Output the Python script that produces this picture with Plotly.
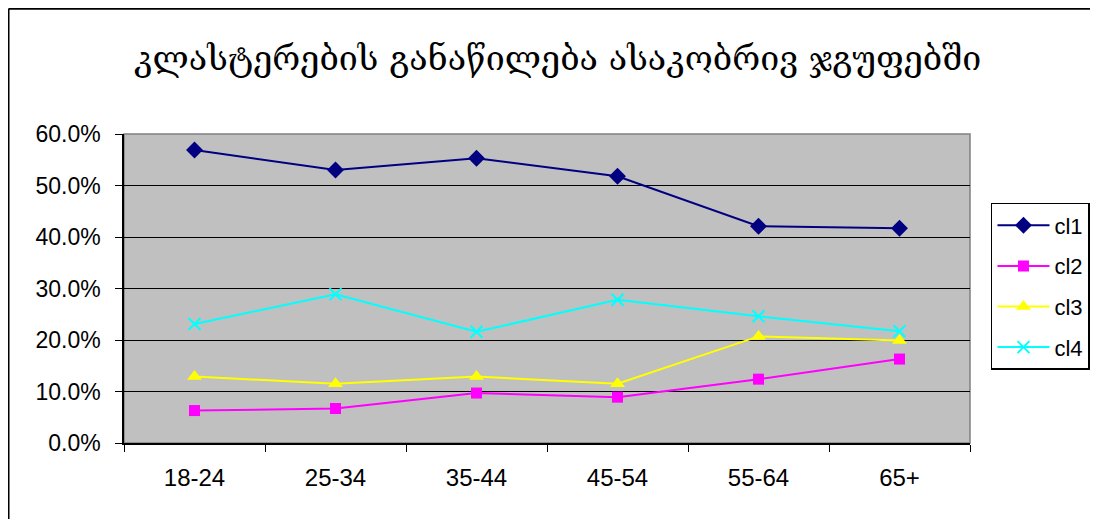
import plotly.graph_objects as go

# -----------------------------------------------------------------------------
# Data
# -----------------------------------------------------------------------------
age_groups = ["18-24", "25-34", "35-44", "45-54", "55-64", "65+"]

cl1 = [0.569, 0.530, 0.553, 0.518, 0.421, 0.417]
cl2 = [0.063, 0.067, 0.097, 0.089, 0.124, 0.163]
cl3 = [0.129, 0.115, 0.129, 0.115, 0.207, 0.199]
cl4 = [0.231, 0.289, 0.216, 0.278, 0.246, 0.217]

series_names = ["cl1", "cl2", "cl3", "cl4"]
series_values = [cl1, cl2, cl3, cl4]
series_colors = ["#000080", "#FF00FF", "#FFFF00", "#00FFFF"]
series_symbols = ["diamond", "square", "triangle-up", "x-thin"]
marker_sizes = [13, 11, 13, 12]

title_text = "კლასტერების განაწილება ასაკობრივ ჯგუფებში"

# -----------------------------------------------------------------------------
# Figure
# -----------------------------------------------------------------------------
fig = go.Figure()

for name, vals, color, sym, ms in zip(series_names, series_values, series_colors,
                                      series_symbols, marker_sizes):
    marker = dict(symbol=sym, size=ms, color=color)
    if sym == "x-thin":
        marker["line"] = dict(color=color, width=2)
    fig.add_trace(go.Scatter(
        x=age_groups, y=vals, name=name, legendgroup=name,
        mode="lines+markers",
        line=dict(color=color, width=2),
        marker=marker,
    ))

# outer chart frame (top and left edges only visible)
fig.add_shape(type="line", xref="paper", yref="paper",
              x0=-0.1365, x1=1.16, y0=1.405, y1=1.405,
              line=dict(color="black", width=2))
fig.add_shape(type="line", xref="paper", yref="paper",
              x0=-0.1365, x1=-0.1365, y0=1.405, y1=-0.26,
              line=dict(color="black", width=2))
# plot-area border
fig.add_shape(type="rect", xref="paper", yref="paper",
              x0=0, x1=1, y0=0, y1=1,
              line=dict(color="#808080", width=1.5), layer="below")

fig.add_annotation(
    text=title_text, xref="paper", yref="paper",
    x=0.512, y=1.246, xanchor="center", yanchor="middle", showarrow=False,
    font=dict(family="DejaVu Serif, DejaVu Sans", size=34, color="black"),
)

fig.update_layout(
    width=1090, height=511,
    margin=dict(l=116, r=128, t=126, b=76, autoexpand=False),
    paper_bgcolor="white",
    plot_bgcolor="#C0C0C0",
    font=dict(family="Liberation Sans, Arial", color="black"),
    showlegend=True,
    legend=dict(
        x=1.0248, y=0.7767, xanchor="left", yanchor="top",
        bordercolor="black", borderwidth=1.5, bgcolor="white",
        font=dict(size=22, color="black"),
        tracegroupgap=9, itemwidth=52,
    ),
)

fig.update_xaxes(
    type="category", range=[-0.5, 5.5], tickson="boundaries",
    ticks="outside", ticklen=7, tickcolor="black",
    showline=True, linecolor="black", linewidth=1.5,
    showgrid=False, tickfont=dict(size=24), ticklabelstandoff=12,
)
fig.update_yaxes(
    range=[0, 0.6], dtick=0.1, tickformat=".1%",
    ticks="outside", ticklen=7, tickcolor="black",
    showline=True, linecolor="black", linewidth=1.5,
    showgrid=True, gridcolor="black", gridwidth=1,
    zeroline=False, tickfont=dict(size=23), ticklabelstandoff=10,
)

fig.write_html("out.html")
